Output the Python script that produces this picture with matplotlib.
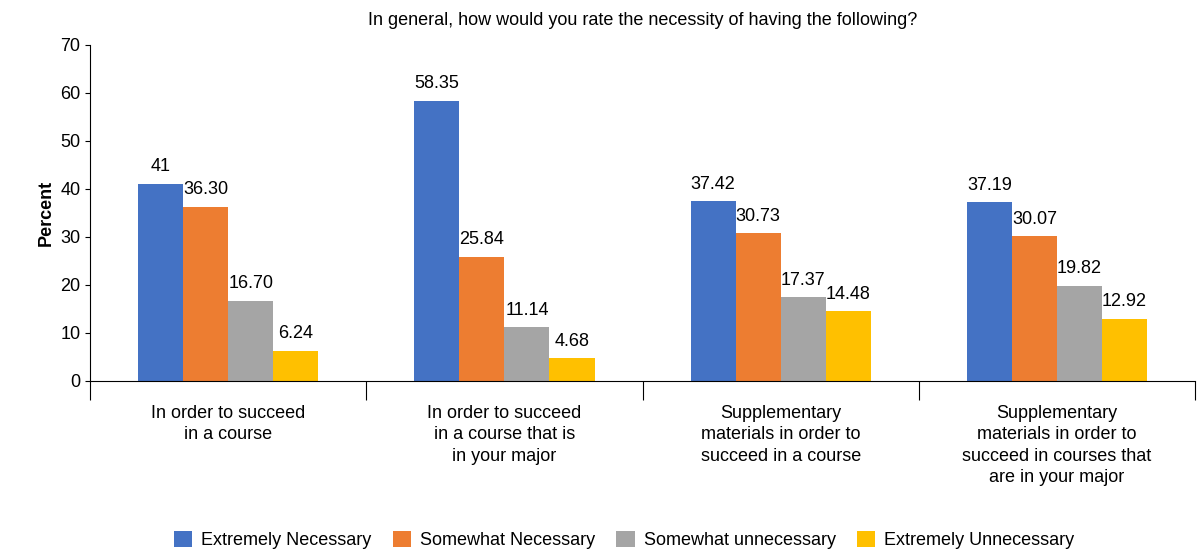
import numpy as np
import matplotlib
matplotlib.use('Agg')
import matplotlib.pyplot as plt

plt.rcParams['font.family'] = ['Liberation Sans', 'DejaVu Sans']

categories = ['In order to succeed\nin a course',
              'In order to succeed\nin a course that is\nin your major',
              'Supplementary\nmaterials in order to\nsucceed in a course',
              'Supplementary\nmaterials in order to\nsucceed in courses that\nare in your major']
series = ['Extremely Necessary', 'Somewhat Necessary', 'Somewhat unnecessary', 'Extremely Unnecessary']
values = [[41, 58.35, 37.42, 37.19],
          [36.30, 25.84, 30.73, 30.07],
          [16.70, 11.14, 17.37, 19.82],
          [6.24, 4.68, 14.48, 12.92]]
labels = [['41', '58.35', '37.42', '37.19'],
          ['36.30', '25.84', '30.73', '30.07'],
          ['16.70', '11.14', '17.37', '19.82'],
          ['6.24', '4.68', '14.48', '12.92']]
colors = ['#4472C4', '#ED7D31', '#A5A5A5', '#FFC000']

fig = plt.figure(figsize=(12, 5.6), dpi=100)
ax = fig.add_axes([0.075, 0.32, 0.921, 0.60])

x = np.arange(len(categories))
w = 0.163
for i, s in enumerate(series):
    pos = x + (i - 1.5) * w
    ax.bar(pos, values[i], w, color=colors[i], label=s)
    for p, v, t in zip(pos, values[i], labels[i]):
        ax.text(p, v + 1.8, t, ha='center', va='bottom', fontsize=13)

ax.set_xlim(-0.5, len(categories) - 0.5)
ax.set_ylim(0, 70)
ax.set_yticks(range(0, 71, 10))
ax.tick_params(axis='y', labelsize=13)
ax.set_ylabel('Percent', fontsize=13, fontweight='bold')
ax.spines['top'].set_visible(False)
ax.spines['right'].set_visible(False)

# category separators below the axis
ax.set_xticks(np.arange(-0.5, len(categories), 1))
ax.set_xticklabels([])
ax.tick_params(axis='x', length=14, direction='out')
for xi, c in zip(x, categories):
    ax.text(xi, -5, c, ha='center', va='top', fontsize=13, linespacing=1.35)

ax.set_title('In general, how would you rate the necessity of having the following?',
             fontsize=13, pad=14)
fig.legend(loc='lower center', ncol=4, frameon=False, fontsize=13,
           bbox_to_anchor=(0.52, -0.01), handlelength=1.0, handleheight=1.0,
           columnspacing=1.2, handletextpad=0.5)

fig.savefig('out.png')
